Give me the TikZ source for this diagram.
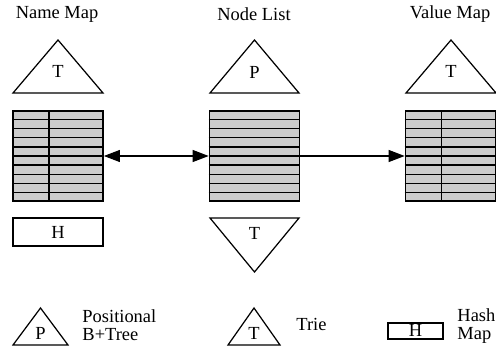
\documentclass[tikz,border=0pt]{standalone}
\usepackage{fontspec}
\setmainfont{Liberation Serif}
\usetikzlibrary{arrows.meta,calc}

\begin{document}
\begin{tikzpicture}[
    x=0.02cm, y=-0.02cm,
    font=\fontsize{10.5}{10.5}\selectfont,
    line width=0.7pt,
    table/.style={rectangle, draw, fill=black!20, line width=1pt, minimum width=1.8cm, minimum height=1.8cm, inner sep=0pt},
    hash/.style={rectangle, draw, minimum width=1.8cm, minimum height=0.56cm, inner sep=0pt},
    arrow/.style={-{Triangle[length=0.32cm, width=0.24cm]}, line width=0.6pt},
    twoway/.style={{Triangle[length=0.32cm, width=0.24cm]}-{Triangle[length=0.32cm, width=0.24cm]}, line width=0.6pt}
]
    \useasboundingbox (0,0) rectangle (496,351);

    % Titles
    \node (nametitle) at (57,14) {Name Map};
    \node (nodetitle) at (254,14) {Node List};
    \node (valuetitle) at (450,14) {Value Map};

    % Tables
    \node[table] (names) at (58,156) {};
    \node[table] (nodes) at (254.5,156) {};
    \node[table] (values) at (450.5,156) {};
    \foreach \t in {names,nodes,values}
        \foreach \r in {1,...,9}
            \draw[line width=0.85pt] ($(\t.north west)!\r/10!(\t.south west)$) -- ($(\t.north east)!\r/10!(\t.south east)$);
    \foreach \t in {names,values}
        \draw[line width=0.85pt] ($(\t.north west)!0.4!(\t.north east)$) -- ($(\t.south west)!0.4!(\t.south east)$);

    % Indexes above and below
    \draw (13,93) -- (58,40) -- (103,93) -- cycle;
    \node (nametrie) at (58,71) {T};
    \draw (210,93) -- (254.5,40) -- (299,93) -- cycle;
    \node (nodetree) at (254.5,72) {P};
    \draw (406,93) -- (451,40) -- (496,93) -- cycle;
    \node (valuetrie) at (451,71) {T};
    \node[hash] (namehash) at (58,232) {H};
    \draw (210,218) -- (254.5,272) -- (299,218) -- cycle;
    \node (nodetrie) at (254.5,233) {T};

    % Connections
    \draw[twoway] (names) -- (nodes);
    \draw[arrow] (nodes) -- (values);

    % Legend
    \draw (13,345) -- (40.5,308) -- (68,345) -- cycle;
    \node (legp) at (40.5,333) {P};
    \node[anchor=west, align=left] (legptext) at (76,325) {Positional\\B+Tree};
    \draw (228,345) -- (254,308) -- (280,345) -- cycle;
    \node (legt) at (254,333) {T};
    \node[anchor=west] (legttext) at (290,324) {Trie};
    \node[rectangle, draw, minimum width=1.1cm, minimum height=0.32cm, inner sep=0pt] (legh) at (415.5,331) {\raisebox{1pt}{H}};
    \node[anchor=west, align=left] (leghtext) at (451,326) {Hash\\Map};
\end{tikzpicture}
\end{document}
